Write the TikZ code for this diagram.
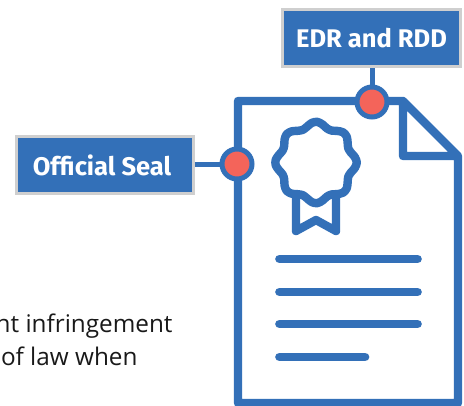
\documentclass[tikz,border=0pt]{standalone}
\usepackage{fontspec}
\setmainfont{Open Sans}
\newfontfamily\labelfont{Fira Sans}
\definecolor{docblue}{HTML}{3370B8}
\definecolor{dotred}{HTML}{F4645A}
\definecolor{edgegray}{HTML}{CFCFCF}
\tikzset{
 x=1pt,y=-1pt,
 labelbox/.style={draw=edgegray,line width=2.6pt,fill=docblue,text=white,inner sep=0pt,minimum height=57.4pt,font=\labelfont\bfseries\fontsize{25.5}{28}\selectfont},
 pin/.style={circle,draw=docblue,fill=dotred,line width=5pt,minimum size=30pt,inner sep=0pt},
 link/.style={draw=docblue,line width=5pt},
 outline/.style={draw=docblue,line width=8.4pt,line join=round,line cap=round},
 textline/.style={draw=docblue,line width=8.7pt,line cap=round},
 body/.style={text=black!90,inner sep=0pt,font=\fontsize{24.3}{28}\selectfont}
}
\begin{document}
\begin{tikzpicture}
\useasboundingbox (0,0) rectangle (464,405);
\clip (0,0) rectangle (464,405);
% page
\draw[outline,line cap=butt] (403,101) -- (238,101) -- (238,403) -- (458,403) -- (458,156) -- (403,101) -- (403,156) -- (458,156);
% seal
\draw[outline,smooth cycle] plot[domain=0:352,samples=45,variable=\t] ({316+(38+2.8*cos(8*\t))*cos(\t)},{162.5+(38+2.8*cos(8*\t))*sin(\t)});
\draw[outline] (296,197) -- (296,231) -- (316,220) -- (336,231) -- (336,197);
% text lines
\coordinate (a1) at (279.5,259); \coordinate (a2) at (417.5,259);
\coordinate (b1) at (279.5,292); \coordinate (b2) at (417.5,292);
\coordinate (c1) at (279.5,324); \coordinate (c2) at (417.5,324);
\coordinate (d1) at (279.5,357); \coordinate (d2) at (365,357);
\draw[textline] (a1) -- (a2);
\draw[textline] (b1) -- (b2);
\draw[textline] (c1) -- (c2);
\draw[textline] (d1) -- (d2);
% labels
\node[labelbox,minimum width=178pt] (edr) at (371.5,38) {\raisebox{-2.5pt}{EDR and RDD}};
\node[labelbox,minimum width=177pt] (seal) at (105,165) {\hspace*{-6pt}\raisebox{-2.5pt}{Official Seal}};
\node[pin] (p1) at (372,102) {};
\node[pin] (p2) at (237,164) {};
\draw[link] (edr.south -| p1) -- (p1);
\draw[link] (seal.east |- p2) -- (p2);
\node[body,anchor=base east] (t1) at (172.7,332.7) {nt infringement};
\node[body,anchor=base east] (t2) at (137.7,365) {of law when};
\end{tikzpicture}
\end{document}
